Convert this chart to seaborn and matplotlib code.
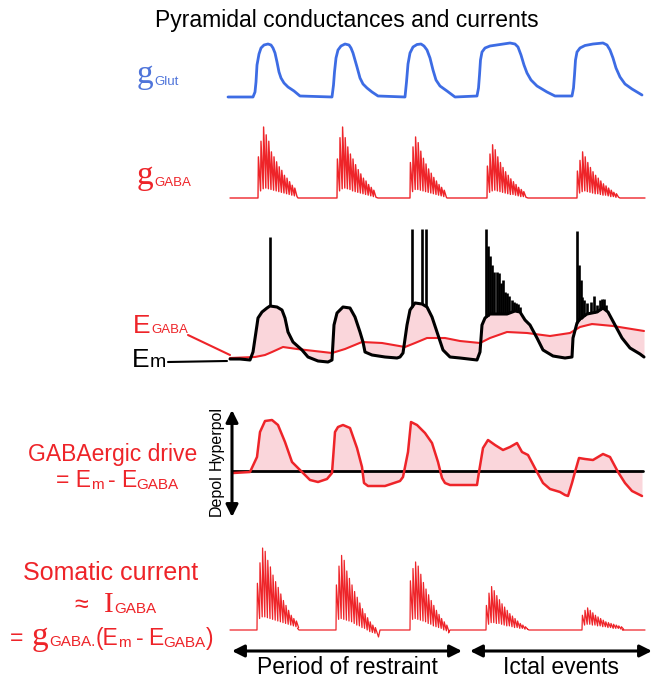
import numpy as np
import matplotlib
matplotlib.use("Agg")
import matplotlib.pyplot as plt
import seaborn as sns
from matplotlib.lines import Line2D

# ---------------- data (time in s) ----------------
glut_t = [-0.2, 2.3, 2.5, 2.6, 2.7, 2.9, 3.1, 3.4, 3.8, 4.1, 4.3, 4.5, 4.7, 4.9, 5.1, 5.4, 5.8, 6.4, 7.0,
          10.2, 10.35, 10.45, 10.6, 10.8, 11.1, 11.5, 11.9, 12.1, 12.3, 12.5, 12.7, 13.0, 13.3, 13.7, 14.2, 14.8,
          17.5, 17.65, 17.8, 18.0, 18.3, 18.7, 19.1, 19.4, 19.7, 20.0, 20.3, 20.6, 21.0, 21.7, 22.5,
          24.7, 24.85, 24.95, 25.05, 25.2, 25.5, 26.0, 27.0, 28.0, 28.5, 28.8, 29.1, 29.4, 29.7, 30.1, 30.7, 31.7, 32.5,
          34.2, 34.35, 34.45, 34.55, 34.7, 35.0, 35.5, 36.3, 37.3, 37.7, 38.0, 38.3, 38.6, 39.0, 39.5, 40.2, 41.2]
glut_g = [0.0, 0.0, 1.0, 3.0, 6.4, 8.6, 9.8, 10.4, 10.6, 10.4, 9.8, 8.8, 7.0, 5.0, 3.8, 2.8, 2.0, 1.2, 0.2,
          0.0, 2.4, 5.0, 7.8, 9.4, 10.2, 10.6, 10.4, 9.8, 8.8, 7.4, 6.0, 3.8, 2.6, 1.8, 1.0, 0.2,
          0.0, 3.0, 6.6, 8.8, 10.0, 10.5, 10.6, 10.2, 9.4, 7.8, 5.4, 3.4, 2.2, 1.2, 0.0,
          0.2, 1.8, 4.4, 7.4, 9.0, 9.8, 10.2, 10.5, 10.8, 10.6, 10.0, 8.4, 6.4, 4.8, 3.4, 2.2, 1.0, 0.2,
          0.2, 1.8, 4.4, 7.4, 9.0, 9.8, 10.3, 10.6, 10.8, 10.4, 9.4, 7.8, 5.8, 4.0, 2.6, 1.6, 0.4]

SPIKE_ISI = 0.26
gaba_onsets = [2.8, 10.7, 18.0, 25.7, 34.7]
gaba_ends = [6.8, 14.8, 21.7, 29.8, 39.0]
gaba_peaks = [
    [0.58, 0.80, 1.00, 0.89, 0.80, 0.65, 0.58, 0.51, 0.44, 0.39, 0.32, 0.28, 0.23, 0.18, 0.14],
    [0.55, 0.85, 1.00, 0.85, 0.72, 0.62, 0.55, 0.47, 0.40, 0.34, 0.28, 0.24, 0.19, 0.15, 0.11],
    [0.50, 0.72, 0.86, 0.78, 0.66, 0.56, 0.48, 0.41, 0.35, 0.29, 0.24, 0.19, 0.15, 0.11],
    [0.45, 0.62, 0.75, 0.68, 0.58, 0.50, 0.43, 0.37, 0.32, 0.27, 0.23, 0.19, 0.15, 0.12, 0.09],
    [0.38, 0.53, 0.65, 0.58, 0.50, 0.43, 0.37, 0.32, 0.28, 0.24, 0.20, 0.17, 0.14, 0.11, 0.08, 0.06],
]
gaba_troughs = [
    [0.10, 0.13, 0.14, 0.13, 0.12, 0.11, 0.10, 0.09, 0.08, 0.07, 0.06, 0.05, 0.04, 0.03, 0.02],
    [0.10, 0.13, 0.14, 0.13, 0.12, 0.10, 0.09, 0.08, 0.07, 0.06, 0.05, 0.04, 0.03, 0.02, 0.01],
    [0.09, 0.12, 0.12, 0.11, 0.10, 0.09, 0.08, 0.07, 0.06, 0.05, 0.04, 0.03, 0.02, 0.01],
    [0.08, 0.10, 0.11, 0.10, 0.09, 0.08, 0.07, 0.06, 0.05, 0.05, 0.04, 0.03, 0.02, 0.02, 0.01],
    [0.07, 0.09, 0.10, 0.09, 0.08, 0.07, 0.06, 0.06, 0.05, 0.04, 0.04, 0.03, 0.02, 0.02, 0.01, 0.01],
]

em_t = [0.0, 1.0, 2.0, 2.3, 2.7, 2.8, 3.2, 3.7, 4.0, 4.7, 5.2, 5.5, 5.8, 6.3, 7.2, 7.8, 8.8, 9.8,
        10.2, 10.4, 10.7, 11.3, 12.0, 12.5, 13.0, 13.3, 13.5, 14.2, 15.5, 16.7,
        17.0, 17.3, 17.7, 18.0, 18.5, 19.2, 19.7, 20.2, 20.8, 21.3, 22.0, 23.0,
        24.7, 25.0, 25.2, 25.5, 26.0, 27.7, 28.5, 29.0, 29.5, 30.0, 30.7, 31.3, 32.3, 33.5,
        34.2, 34.3, 34.7, 35.0, 35.7, 36.7, 37.3, 37.8, 38.5, 39.2, 40.0, 41.0, 41.4]
em_mv = [-69.5, -69.5, -70.0, -66.0, -52.5, -49.0, -46.0, -44.0, -43.0, -43.5, -45.0, -49.0, -56.0,
         -61.0, -65.0, -68.5, -70.5, -71.0,
         -70.0, -52.5, -46.5, -43.5, -44.0, -48.5, -56.0, -61.0, -66.0, -67.5, -68.5, -69.0,
         -68.5, -66.5, -52.5, -45.0, -41.5, -42.0, -43.5, -48.5, -57.5, -65.0, -68.5, -69.0,
         -70.0, -66.0, -52.5, -49.0, -47.0, -47.0, -45.5, -46.0, -50.0, -52.5, -59.0, -65.0, -68.0, -69.0,
         -68.5, -59.0, -51.5, -49.5, -47.0, -46.0, -44.0, -46.0, -52.5, -59.0, -64.0, -67.0, -68.5]

egaba_t = [0.0, 2.5, 3.5, 4.2, 5.3, 6.7, 10.2, 11.5, 13.2, 15.2, 17.5, 18.5, 19.7, 21.5, 23.0,
           25.0, 26.0, 27.7, 29.7, 32.0, 34.0, 35.0, 36.2, 38.3, 41.4]
egaba_mv = [-69.0, -68.5, -67.5, -66.0, -63.5, -64.5, -66.5, -64.5, -61.0, -61.5, -63.5, -61.5,
            -59.0, -59.0, -60.5, -61.5, -59.0, -56.0, -56.5, -58.0, -56.5, -53.5, -52.0, -53.0, -55.5]

spike_t = [4.0, 18.2, 19.2, 19.6,
           25.6, 25.8, 26.0, 26.2, 26.4, 26.7, 26.9, 27.1, 27.3, 27.5, 27.7, 27.9, 28.2, 28.4, 28.6, 28.8, 29.0,
           34.7, 34.9, 35.05, 35.2, 35.4, 35.7, 36.1, 36.4, 36.7, 37.0, 37.2, 37.4, 37.6]
spike_top = [-8.5, -4.5, -4.5, -4.5,
             -4.5, -13.0, -18.0, -22.5, -26.0, -26.0, -26.5, -31.5, -30.0, -36.0, -36.5, -38.0, -40.0,
             -41.0, -41.5, -42.0, -43.5,
             -5.5, -22.5, -30.0, -38.5, -40.0, -41.5, -41.0, -38.0, -42.5, -40.0, -39.5, -39.5, -42.5]

drive_t = [0.3, 2.0, 2.7, 3.0, 3.5, 4.2, 4.8, 5.5, 6.2, 6.7, 7.3, 8.0, 8.8, 9.7,
           10.2, 10.5, 10.8, 11.3, 12.0, 12.7, 13.2, 13.4, 13.8, 15.5, 17.0,
           17.3, 17.8, 18.1, 18.7, 19.5, 20.2, 20.8, 21.2, 21.5, 22.0, 24.7,
           24.9, 25.3, 25.8, 26.5, 27.3, 28.0, 28.7, 29.2, 29.8, 30.7, 31.3, 32.0, 33.0, 33.5, 33.8,
           34.2, 34.5, 34.9, 35.5, 36.3, 37.3, 38.0, 38.8, 39.5, 40.2, 41.2]
drive_mv = [-0.8, -0.4, 5.6, 15.6, 20.0, 20.4, 18.4, 11.6, 3.6, 1.6, -0.8, -3.6, -4.4, -3.2,
            -0.8, 15.6, 17.6, 18.4, 17.2, 9.2, 1.6, -4.8, -6.0, -6.0, -4.0,
            -2.4, 7.6, 19.6, 18.4, 15.2, 11.2, 3.6, -2.8, -4.8, -5.6, -5.6,
            -0.4, 9.2, 12.4, 10.4, 8.4, 9.6, 11.2, 7.6, 6.4, -0.4, -4.8, -7.2, -8.4, -9.6, -10.0,
            -4.8, -0.4, 5.2, 4.8, 4.4, 6.8, 5.6, -0.4, -4.8, -8.0, -10.0]

cur_onsets = [2.7, 10.6, 18.0, 25.6, 35.2]
cur_ends = [6.9, 15.0, 22.0, 29.9, 39.4]
cur_end_dips = [0.02, -0.085, -0.035, 0.01, 0.0]
cur_peaks = [
    [0.57, 0.82, 1.00, 0.96, 0.85, 0.77, 0.67, 0.59, 0.52, 0.44, 0.36, 0.30, 0.24, 0.18, 0.14, 0.11],
    [0.55, 0.78, 0.91, 0.85, 0.72, 0.63, 0.55, 0.47, 0.40, 0.33, 0.26, 0.20, 0.15, 0.10, 0.06, 0.03],
    [0.60, 0.75, 0.83, 0.78, 0.68, 0.58, 0.50, 0.43, 0.36, 0.30, 0.24, 0.19, 0.14, 0.10, 0.06],
    [0.30, 0.45, 0.53, 0.48, 0.42, 0.37, 0.32, 0.28, 0.24, 0.20, 0.17, 0.14, 0.11, 0.08, 0.06, 0.04],
    [0.18, 0.24, 0.27, 0.24, 0.21, 0.18, 0.16, 0.14, 0.12, 0.10, 0.09, 0.08, 0.07, 0.06, 0.05, 0.04],
]
cur_troughs = [
    [0.14, 0.16, 0.16, 0.15, 0.14, 0.13, 0.12, 0.11, 0.10, 0.09, 0.08, 0.07, 0.06, 0.05, 0.04, 0.03],
    [0.13, 0.14, 0.13, 0.12, 0.11, 0.10, 0.08, 0.06, 0.05, 0.03, 0.02, 0.00, -0.02, -0.03, -0.04, -0.05],
    [0.13, 0.14, 0.13, 0.12, 0.11, 0.10, 0.08, 0.07, 0.05, 0.04, 0.03, 0.02, 0.00, -0.01, -0.02],
    [0.07, 0.09, 0.09, 0.08, 0.08, 0.07, 0.06, 0.05, 0.05, 0.04, 0.03, 0.03, 0.02, 0.02, 0.01, 0.01],
    [0.06, 0.07, 0.07, 0.06, 0.06, 0.05, 0.05, 0.04, 0.04, 0.03, 0.03, 0.02, 0.02, 0.02, 0.01, 0.01],
]

periods = ["Period of restraint", "Ictal events"]
period_start = [0.2, 24.0]
period_end = [23.2, 42.2]

# ---------------- style ----------------
BLUE = "#3d6ce4"
BLUE_LABEL = "#4f74da"
RED = "#ee2429"
PINK = "#fad6db"

sns.set_theme(style="white")
plt.rcParams["font.family"] = ["Liberation Sans", "DejaVu Sans"]

W, H = 658, 679
fig = plt.figure(figsize=(W / 100, H / 100), dpi=100)
renderer = fig.canvas.get_renderer()

X0_PX, X1_PX = 225, 655
T_MIN, T_MAX = -0.5, 42.5


def panel(top, bottom, ylim):
    ax = fig.add_axes([X0_PX / W, 1 - bottom / H, (X1_PX - X0_PX) / W, (bottom - top) / H])
    ax.patch.set_alpha(0)
    ax._ylim_wanted = ylim
    return ax


def finish(ax):
    ax.set_xlim(T_MIN, T_MAX)
    ax.set_ylim(*ax._ylim_wanted)
    ax.axis("off")


def trace(ax, t, v, color, lw, z=3):
    sns.lineplot(x=np.asarray(t, float), y=np.asarray(v, float), ax=ax, color=color, lw=lw,
                 sort=False, estimator=None, errorbar=None, legend=False, zorder=z,
                 solid_joinstyle="round")


def burst_trace(onsets, ends, peaks, troughs, dips=None, t_start=0.0, t_stop=41.5):
    t, v = [t_start], [0.0]
    for k, (t0, t1, p, q) in enumerate(zip(onsets, ends, peaks, troughs)):
        t.append(t0); v.append(0.0)
        prev = 0.0
        for i, (pi, qi) in enumerate(zip(p, q)):
            ts = t0 + i * SPIKE_ISI
            t += [ts, ts + 0.15 * SPIKE_ISI]
            v += [prev, pi]
            prev = qi
        t.append(t0 + len(p) * SPIKE_ISI); v.append(prev)
        if dips is not None:
            t.append(t1 - 0.15); v.append(dips[k])
        t.append(t1); v.append(0.0)
    t.append(t_stop); v.append(0.0)
    return t, v


# ---- g Glut ----
ax_glut = panel(35, 105, (-1.6, 12.4))
trace(ax_glut, glut_t, glut_g, BLUE, 2.0)
finish(ax_glut)

# ---- g GABA ----
ax_gaba = panel(115, 205, (-0.0986, 1.169))
gt, gv = burst_trace(gaba_onsets, gaba_ends, gaba_peaks, gaba_troughs)
trace(ax_gaba, gt, gv, RED, 1.0)
finish(ax_gaba)

# ---- Em / EGABA ----
ax_em = panel(222, 372, (-76.0, -1.0))
em_t_a = np.asarray(em_t, float)
em_v_a = np.asarray(em_mv, float)
eg_on_em = np.interp(em_t_a, egaba_t, egaba_mv)
ax_em.fill_between(em_t_a, em_v_a, eg_on_em, color=PINK, lw=0, zorder=1)
trace(ax_em, egaba_t, egaba_mv, RED, 1.5, z=3)
trace(ax_em, em_t, em_mv, "black", 2.2, z=4)
sp_t = np.asarray(spike_t, float)
sp_base = np.interp(sp_t, em_t_a, em_v_a)
ax_em.vlines(sp_t, sp_base, spike_top, color="black", lw=1.9, zorder=4)
finish(ax_em)

# ---- GABAergic drive ----
ax_dr = panel(405, 530, (-23.6, 26.4))
ax_dr.fill_between(np.asarray(drive_t, float), drive_mv, 0, color=PINK, lw=0, zorder=1)
ax_dr.plot([0.2, 41.3], [0, 0], color="black", lw=2.0, zorder=2)
trace(ax_dr, drive_t, drive_mv, RED, 1.8, z=3)
ax_dr.annotate("", xy=(0.2, 24.4), xytext=(0.2, -18.4),
               arrowprops=dict(arrowstyle="<|-|>", color="black", lw=2.2,
                               mutation_scale=18, shrinkA=0, shrinkB=0))
finish(ax_dr)

# ---- Somatic current ----
ax_cur = panel(540, 645, (-0.183, 1.098))
ct, cv = burst_trace(cur_onsets, cur_ends, cur_peaks, cur_troughs, dips=cur_end_dips)
trace(ax_cur, ct, cv, RED, 0.9)
finish(ax_cur)

# ---- periods ----
ax_per = panel(640, 679, (0, 1))
for name, s, e in zip(periods, period_start, period_end):
    ax_per.annotate("", xy=(e, 0.718), xytext=(s, 0.718),
                    arrowprops=dict(arrowstyle="<|-|>", color="black", lw=2.2,
                                    mutation_scale=18, shrinkA=0, shrinkB=0))
    ax_per.text((s + e) / 2, 0.30, name, ha="center", va="center", fontsize=16.5, color="black")
finish(ax_per)


# ---------------- text helpers ----------------
def fx(x):
    return x / W


def fy(y):
    return 1 - y / H


def rich(x, y, pieces, ha="left"):
    """pieces: (text, size, family, color, dy_px, gap_px_before)"""
    objs = []
    total = 0.0
    for s, size, fam, color, dy, gap in pieces:
        t = fig.text(0, 0, s, fontsize=size, family=fam, color=color, va="baseline", ha="left")
        w = t.get_window_extent(renderer).width
        objs.append((t, dy, gap, w))
        total += w + gap
    x0 = x - total / 2 if ha == "center" else x
    for t, dy, gap, w in objs:
        x0 += gap
        t.set_position((fx(x0), fy(y + dy)))
        x0 += w


SANS = ["Liberation Sans", "DejaVu Sans"]
SERIF = ["Liberation Serif", "DejaVu Serif"]

fig.text(fx(347), fy(20), "Pyramidal conductances and currents", fontsize=16.5,
         ha="center", va="center", color="black")

rich(137, 83, [("g", 24, SERIF, BLUE_LABEL, 0, 0), ("Glut", 9.5, SANS, BLUE_LABEL, 2, 1)])
rich(137, 184, [("g", 24, SERIF, RED, 0, 0), ("GABA", 9.5, SANS, RED, 2, 1)])
rich(133, 333, [("E", 19, SANS, RED, 0, 0), ("GABA", 9.5, SANS, RED, 0, 1)])
rich(132, 367, [("E", 19, SANS, "black", 0, 0), ("m", 14, SANS, "black", 0, 0)])

fig.add_artist(Line2D([fx(188), fx(230)], [fy(335), fy(355)], color=RED, lw=1.5))
fig.add_artist(Line2D([fx(168), fx(227)], [fy(362), fy(361)], color="black", lw=1.5))

fig.text(fx(113), fy(461), "GABAergic drive", fontsize=16.5, color=RED, ha="center", va="baseline")
rich(117, 487, [("= E", 16.5, SANS, RED, 0, 0), ("m", 11, SANS, RED, 2, 0),
                ("-", 16.5, SANS, RED, 0, 5), ("E", 16.5, SANS, RED, 0, 5),
                ("GABA", 11, SANS, RED, 2, 0)], ha="center")

fig.text(fx(216), fy(438), "Hyperpol", fontsize=11.5, rotation=90, ha="center", va="center", color="black")
fig.text(fx(216), fy(495), "Depol", fontsize=11.5, rotation=90, ha="center", va="center", color="black")

fig.text(fx(111), fy(580), "Somatic current", fontsize=18, color=RED, ha="center", va="baseline")
rich(74, 612, [("\u2248", 18, SANS, RED, 0, 0), ("I", 21, SERIF, RED, 0, 16),
               ("GABA", 11, SANS, RED, 1, 1)])
rich(10, 645, [("=", 16.5, SANS, RED, 0, 0), ("g", 24, SERIF, RED, 0, 8),
               ("GABA.", 11, SANS, RED, 1, 1), ("(E", 16.5, SANS, RED, 0, 0),
               ("m", 11, SANS, RED, 2, 0), ("-", 16.5, SANS, RED, 0, 5),
               ("E", 16.5, SANS, RED, 0, 5), ("GABA", 11, SANS, RED, 2, 0),
               (")", 16.5, SANS, RED, 0, 0)])

fig.savefig("out.png", dpi=100)
